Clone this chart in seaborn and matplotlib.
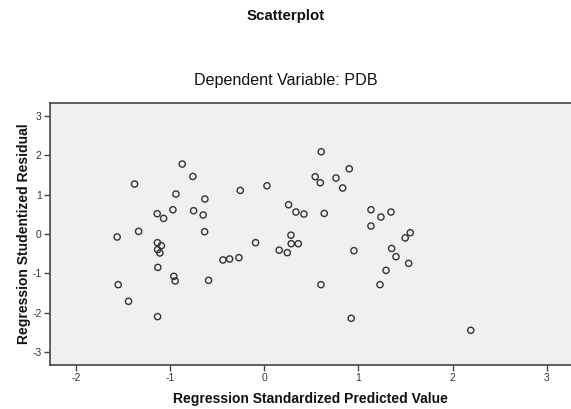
import numpy as np
import matplotlib
matplotlib.use('Agg')
import matplotlib.pyplot as plt
import seaborn as sns

# values
predicted = [-0.874, -0.761, -1.381, -0.257, 0.027, -0.941, -0.633, 0.257, 0.335, 0.420,
             -1.140, -1.072, -0.973, -0.753, -0.651, -0.636, -1.338, -1.566, -1.138, -1.096,
             -0.094, 0.282, 0.285, 0.360, 0.157, 0.243, 0.604, 0.902, 0.540, 0.594,
             0.761, 0.832, 0.636, 1.133, 1.239, 1.346, 1.133, 1.497, 1.551, 0.952,
             1.353, -1.136, -1.112, -1.133, -0.963, -0.949, -0.594, -1.555, -1.445, -1.136,
             -0.441, -0.370, -0.271, 1.399, 1.534, 1.293, 1.229, 0.601, 0.923, 2.194]
residual = [1.772, 1.458, 1.266, 1.104, 1.223, 1.013, 0.886, 0.742, 0.557, 0.506,
            0.514, 0.395, 0.615, 0.590, 0.481, 0.058, 0.066, -0.076, -0.220, -0.296,
            -0.220, -0.030, -0.246, -0.246, -0.410, -0.473, 2.084, 1.653, 1.451, 1.299,
            1.418, 1.165, 0.522, 0.615, 0.430, 0.557, 0.203, -0.099, 0.033, -0.423,
            -0.367, -0.397, -0.481, -0.846, -1.073, -1.190, -1.175, -1.284, -1.706, -2.094,
            -0.658, -0.633, -0.600, -0.575, -0.744, -0.922, -1.284, -1.284, -2.137, -2.441]

x_ticks = [-2, -1, 0, 1, 2, 3]
y_ticks = [-3, -2, -1, 0, 1, 2, 3]

sns.set_style("white")
plt.rcParams['font.family'] = ['Liberation Sans', 'DejaVu Sans']
plt.rcParams['axes.unicode_minus'] = False

fig = plt.figure(figsize=(5.71, 4.09), dpi=100)
ax = fig.add_axes([50 / 571, (409 - 365) / 409, 1 - 50 / 571, (365 - 103) / 409])
ax.set_facecolor('#F0F0F0')

sns.scatterplot(ax=ax, x=predicted, y=residual, marker='o', s=20,
                facecolors='none', edgecolors='#333333', linewidth=1.0)

ax.set_xlim(-2.28, 3.26)
ax.set_ylim(-3.32, 3.32)
ax.set_xticks(x_ticks)
ax.set_yticks(y_ticks)
ax.tick_params(axis='both', direction='out', length=4, width=1, color='#444444',
               labelsize=7.5, labelcolor='#333333', pad=2, bottom=True, left=True)
for side in ['left', 'bottom', 'top']:
    ax.spines[side].set_color('#444444')
    ax.spines[side].set_linewidth(1.2)
ax.spines['right'].set_visible(False)

ax.set_xlabel('Regression Standardized Predicted Value', fontsize=10,
              fontweight='bold', labelpad=6, color='#111111')
ax.set_ylabel('Regression Studentized Residual', fontsize=10,
              fontweight='bold', labelpad=1, color='#111111')

fig.text(0.5, 1 - 16 / 409, 'Scatterplot', ha='center', va='center',
         fontsize=10.8, fontweight='bold', color='#111111')
fig.text(0.5, 1 - 80 / 409, 'Dependent Variable: PDB', ha='center', va='center',
         fontsize=11.6, color='#111111')

plt.savefig('out.png', dpi=100)
